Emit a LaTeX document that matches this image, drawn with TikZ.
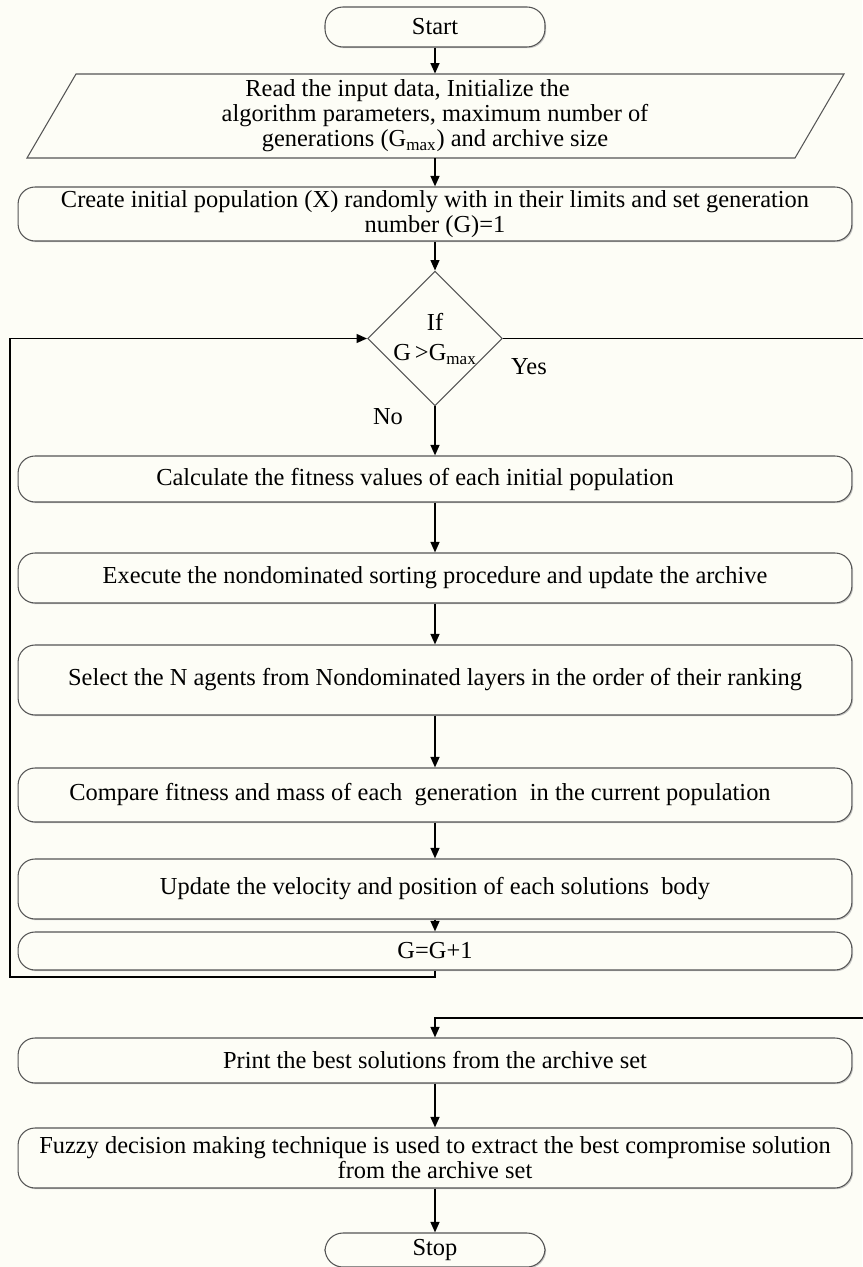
\documentclass[tikz,border=0pt]{standalone}
\usepackage{fontspec}
\setmainfont{Liberation Serif}
\usetikzlibrary{arrows.meta,shapes.geometric,shadows}
\definecolor{paper}{RGB}{253,253,246}
\definecolor{rim}{RGB}{85,85,85}
\begin{document}
\begin{tikzpicture}[x=0.02cm,y=-0.02cm,
    proc/.style={draw=rim,line width=0.6pt,fill=paper,rounded corners=0.34cm,
      minimum width=16.68cm,inner sep=1pt,align=center,
      drop shadow={shadow xshift=0.7pt,shadow yshift=-0.7pt,fill=black!35,opacity=0.6}},
    term/.style={proc,minimum width=4.4cm,rounded corners=0.36cm},
    test/.style={diamond,aspect=1,draw=rim,line width=0.6pt,fill=paper,inner sep=0pt,
      minimum width=2.46cm,minimum height=2.46cm,align=center},
    arr/.style={line width=1.1pt,-{Triangle[length=6pt,width=5pt]}},
    every node/.style={font=\fontsize{13.9}{14.2}\selectfont}]
  \fill[paper] (0,0) rectangle (862,1267);
  \useasboundingbox (0,0) rectangle (862,1267);
  % the input parallelogram, its text sits in a plain node
  \draw[draw=rim,line width=0.6pt,fill=paper] (76,74) -- (844,74) -- (795,158) -- (27,158) -- cycle;
  \node[term,minimum height=0.8cm] (start) at (435,27) {Start};
  \node[minimum width=15.4cm,minimum height=1.68cm,inner sep=0pt,align=center] (input) at (435,116)
    {Read the input data, Initialize the\hspace*{1.1cm}\\algorithm parameters, maximum number of\\
     generations (G\textsubscript{max}) and archive size};
  \node[proc,minimum height=1.08cm] (create) at (435,214)
    {Create initial population (X) randomly with in their limits and set generation\\number (G)=1};
  \node[test] (check) at (435,338.5) {If\\[3pt]G\,>G\textsubscript{max}};
  \node[proc,minimum height=0.92cm] (calc) at (435,479) {Calculate the fitness values of each initial population\hspace*{0.8cm}};
  \node[proc,minimum height=1.0cm] (sort) at (435,578) {Execute the nondominated sorting procedure and update the archive};
  \node[proc,minimum height=1.4cm] (select) at (435,680) {Select the N agents from Nondominated layers in the order of their ranking};
  \node[proc,minimum height=1.08cm] (compare) at (435,795) {Compare fitness and mass of each \ generation \ in the current population\hspace*{0.6cm}};
  \node[proc,minimum height=1.2cm] (update) at (435,889) {Update the velocity and position of each solutions \ body};
  \node[proc,minimum height=0.76cm] (gstep) at (435,951) {G=G+1};
  \node[proc,minimum height=0.9cm] (print) at (435,1060.5) {Print the best solutions from the archive set};
  \node[proc,minimum height=1.2cm] (fuzzy) at (435,1158)
    {Fuzzy decision making technique is used to extract the best compromise solution\\from the archive set};
  \node[term,minimum height=0.68cm] (stop) at (435,1250) {Stop};
  \node (yes) at (529,367) {Yes};
  \node (no) at (388,417) {No};
  % main flow
  \draw[arr] (start) -- (input);
  \draw[arr] (input) -- (create);
  \draw[arr] (create) -- (check);
  \draw[arr] (check) -- (calc);
  \draw[arr] (calc) -- (sort);
  \draw[arr] (sort) -- (select);
  \draw[arr] (select) -- (compare);
  \draw[arr] (compare) -- (update);
  \draw[arr] (update) -- (gstep);
  \draw[arr] (print) -- (fuzzy);
  \draw[arr] (fuzzy) -- (stop);
  % back to the test, and the way out on Yes
  \coordinate (loopbl) at (10,977);
  \coordinate (yesr) at (874,1018);
  \draw[arr] (gstep.south) |- (loopbl) |- (check.west);
  \draw[arr] (check.east) -| (yesr) -| (print.north);
\end{tikzpicture}
\end{document}
